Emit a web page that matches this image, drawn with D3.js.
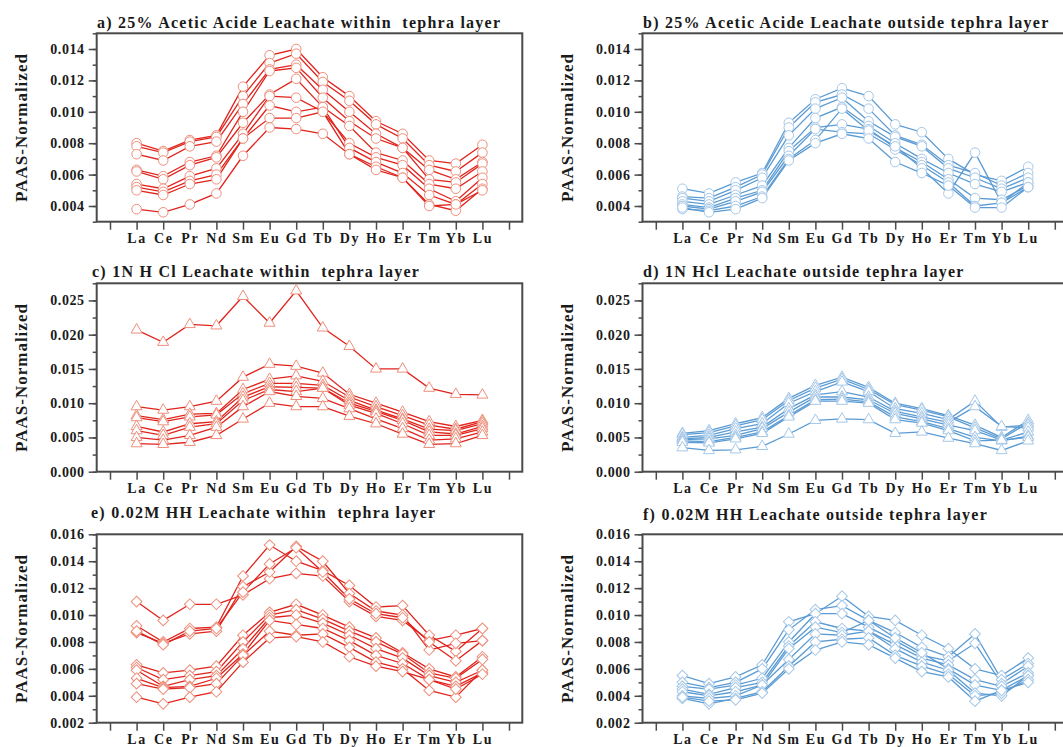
<!DOCTYPE html>
<html>
<head>
<meta charset="utf-8">
<script src="https://cdn.jsdelivr.net/npm/d3@7"></script>
<style>
  body { margin: 0; background: #fff; }
  text { font-family: "Liberation Serif", "Times New Roman", serif; font-weight: bold; fill: #1a1a1a; }
</style>
</head>
<body>
<div id="chart"></div>
<script>
// REE names, plotted at x = 1..14
const elements = ["La","Ce","Pr","Nd","Sm","Eu","Gd","Tb","Dy","Ho","Er","Tm","Yb","Lu"];

// a) 25% acetic acid, within tephra layer
const aceticWithin = [
  [.0080,.0075,.0082,.0085,.0116,.0136,.0140,.0122,.0110,.0094,.0086,.0069,.0067,.0079],
  [.0078,.0074,.0081,.0084,.0110,.0131,.0137,.0119,.0107,.0092,.0083,.0066,.0062,.0074],
  [.0073,.0069,.0078,.0081,.0105,.0127,.0130,.0114,.0100,.0086,.0077,.0063,.0057,.0068],
  [.0063,.0059,.0068,.0072,.0100,.0126,.0128,.0109,.0094,.0083,.0077,.0057,.0055,.0067],
  [.0062,.0057,.0066,.0071,.0093,.0111,.0121,.0103,.0091,.0074,.0069,.0054,.0051,.0062],
  [.0054,.0051,.0059,.0064,.0086,.0110,.0109,.0100,.0080,.0071,.0066,.0051,.0043,.0058],
  [.0052,.0049,.0056,.0060,.0083,.0104,.0100,.0103,.0077,.0068,.0061,.0047,.0041,.0054],
  [.0050,.0047,.0054,.0057,.0083,.0096,.0096,.0100,.0073,.0065,.0058,.0041,.0037,.0051],
  [.0038,.0036,.0041,.0048,.0072,.0090,.0089,.0086,.0073,.0063,.0058,.0040,.0041,.0050]
];

// b) 25% acetic acid, outside tephra layer
const aceticOutside = [
  [.0051,.0048,.0055,.0061,.0093,.0108,.0115,.0110,.0092,.0087,.0070,.0060,.0056,.0065],
  [.0046,.0045,.0052,.0060,.0090,.0106,.0111,.0102,.0085,.0079,.0066,.0061,.0053,.0061],
  [.0045,.0043,.0050,.0058,.0085,.0102,.0109,.0094,.0084,.0078,.0064,.0058,.0051,.0058],
  [.0043,.0041,.0047,.0053,.0077,.0096,.0103,.0091,.0080,.0070,.0061,.0054,.0049,.0055],
  [.0041,.0039,.0045,.0050,.0075,.0090,.0092,.0089,.0077,.0068,.0057,.0045,.0044,.0053],
  [.0040,.0038,.0043,.0049,.0072,.0089,.0087,.0086,.0076,.0066,.0055,.0040,.0042,.0055],
  [.0038,.0037,.0040,.0046,.0070,.0082,.0102,.0088,.0078,.0064,.0048,.0074,.0042,.0052],
  [.0039,.0036,.0038,.0045,.0069,.0080,.0086,.0083,.0068,.0061,.0053,.0039,.0039,.0052]
];

// c) 1N HCl, within tephra layer
const hclWithin = [
  [.0207,.0189,.0215,.0213,.0256,.0217,.0264,.0210,.0183,.0150,.0150,.0122,.0113,.0112],
  [.0095,.0090,.0095,.0103,.0138,.0157,.0154,.0144,.0113,.0100,.0087,.0073,.0066,.0075],
  [.0082,.0076,.0084,.0085,.0120,.0135,.0140,.0132,.0109,.0095,.0082,.0068,.0062,.0073],
  [.0079,.0073,.0080,.0083,.0114,.0129,.0129,.0126,.0104,.0090,.0077,.0062,.0060,.0070],
  [.0066,.0058,.0070,.0073,.0109,.0124,.0123,.0122,.0100,.0088,.0075,.0058,.0055,.0066],
  [.0060,.0053,.0065,.0070,.0104,.0120,.0117,.0122,.0097,.0085,.0070,.0053,.0053,.0063],
  [.0050,.0046,.0053,.0065,.0095,.0117,.0110,.0107,.0092,.0077,.0063,.0046,.0048,.0058],
  [.0041,.0040,.0043,.0053,.0077,.0100,.0095,.0095,.0081,.0070,.0055,.0040,.0041,.0053]
];

// d) 1N HCl, outside tephra layer
const hclOutside = [
  [.0056,.0060,.0070,.0079,.0107,.0126,.0138,.0123,.0100,.0092,.0082,.0068,.0050,.0075],
  [.0054,.0057,.0067,.0076,.0104,.0122,.0135,.0120,.0098,.0090,.0080,.0064,.0048,.0071],
  [.0050,.0053,.0063,.0070,.0100,.0117,.0131,.0117,.0092,.0085,.0076,.0103,.0065,.0068],
  [.0048,.0050,.0058,.0065,.0092,.0112,.0117,.0109,.0088,.0080,.0072,.0095,.0066,.0064],
  [.0047,.0048,.0053,.0063,.0087,.0109,.0109,.0105,.0085,.0077,.0068,.0060,.0046,.0058],
  [.0045,.0044,.0050,.0058,.0082,.0105,.0106,.0102,.0080,.0073,.0063,.0050,.0045,.0052],
  [.0043,.0042,.0048,.0056,.0080,.0103,.0103,.0100,.0076,.0071,.0060,.0045,.0046,.0050],
  [.0035,.0031,.0032,.0037,.0055,.0075,.0077,.0076,.0056,.0058,.0049,.0041,.0031,.0045]
];

// e) 0.02M HH, within tephra layer
const hhWithin = [
  [.0110,.0096,.0108,.0108,.0115,.0127,.0131,.0129,.0110,.0099,.0096,.0081,.0085,.0090],
  [.0092,.0080,.0090,.0091,.0129,.0152,.0140,.0133,.0122,.0106,.0107,.0085,.0073,.0090],
  [.0087,.0079,.0086,.0088,.0121,.0132,.0151,.0140,.0116,.0103,.0100,.0074,.0079,.0081],
  [.0088,.0078,.0088,.0090,.0117,.0138,.0150,.0132,.0112,.0101,.0098,.0080,.0066,.0081],
  [.0063,.0057,.0059,.0062,.0085,.0102,.0108,.0100,.0091,.0083,.0072,.0060,.0054,.0069],
  [.0061,.0052,.0055,.0058,.0080,.0100,.0104,.0097,.0088,.0080,.0071,.0057,.0053,.0067],
  [.0059,.0047,.0052,.0055,.0075,.0098,.0100,.0094,.0085,.0075,.0068,.0055,.0050,.0059],
  [.0053,.0046,.0047,.0053,.0071,.0096,.0093,.0090,.0081,.0070,.0064,.0052,.0047,.0057],
  [.0049,.0045,.0046,.0049,.0070,.0088,.0085,.0086,.0076,.0065,.0060,.0044,.0039,.0059],
  [.0039,.0034,.0039,.0043,.0065,.0083,.0084,.0080,.0069,.0062,.0058,.0052,.0045,.0056]
];

// f) 0.02M HH, outside tephra layer
const hhOutside = [
  [.0055,.0049,.0054,.0063,.0095,.0101,.0114,.0099,.0096,.0085,.0075,.0060,.0055,.0068],
  [.0050,.0046,.0050,.0060,.0089,.0104,.0107,.0096,.0087,.0076,.0069,.0086,.0052,.0064],
  [.0047,.0045,.0048,.0053,.0080,.0101,.0101,.0091,.0081,.0070,.0066,.0079,.0049,.0062],
  [.0045,.0041,.0046,.0050,.0077,.0095,.0090,.0088,.0078,.0068,.0063,.0052,.0047,.0057],
  [.0043,.0040,.0043,.0048,.0075,.0091,.0087,.0096,.0083,.0072,.0060,.0048,.0044,.0055],
  [.0040,.0038,.0040,.0048,.0067,.0086,.0085,.0088,.0075,.0065,.0059,.0042,.0040,.0055],
  [.0038,.0034,.0038,.0043,.0062,.0080,.0082,.0083,.0070,.0062,.0056,.0040,.0042,.0052],
  [.0039,.0036,.0037,.0042,.0060,.0074,.0080,.0078,.0068,.0058,.0054,.0036,.0044,.0050]
];

const titles = [
  "a) 25% Acetic Acide Leachate within  tephra layer",
  "b) 25% Acetic Acide Leachate outside tephra layer",
  "c) 1N H Cl Leachate within  tephra layer",
  "d) 1N Hcl Leachate outside tephra layer",
  "e) 0.02M HH Leachate within  tephra layer",
  "f) 0.02M HH Leachate outside tephra layer"
];
const yLabel = "PAAS-Normalized";

// styles
const red = {line: "#e0231c", marker: "#ee8f7c"};
const blue = {line: "#5b9bd3", marker: "#a6c8e8"};
const axisColor = "#4a4a4a";

const W = 1063, H = 747;
const plotW = 425.6, plotH = 188.4;
const colX = [96.7, 642.5];
const rowY = [33.3, 283.3, 534.3];

const panels = [
  {data: aceticWithin,  col: 0, row: 0, dom: [0.003, 0.015], major: 0.002, first: 0.004, sym: "circle",   c: red,  tx: 97,  ty: 28},
  {data: aceticOutside, col: 1, row: 0, dom: [0.003, 0.015], major: 0.002, first: 0.004, sym: "circle",   c: blue, tx: 643, ty: 28},
  {data: hclWithin,     col: 0, row: 1, dom: [0, 0.0275],    major: 0.005, first: 0,     sym: "triangle", c: red,  tx: 92,  ty: 277},
  {data: hclOutside,    col: 1, row: 1, dom: [0, 0.0275],    major: 0.005, first: 0,     sym: "triangle", c: blue, tx: 643, ty: 277},
  {data: hhWithin,      col: 0, row: 2, dom: [0.002, 0.016], major: 0.002, first: 0.002, sym: "diamond",  c: red,  tx: 91,  ty: 518},
  {data: hhOutside,     col: 1, row: 2, dom: [0.002, 0.016], major: 0.002, first: 0.002, sym: "diamond",  c: blue, tx: 643, ty: 520}
];

const svg = d3.select("#chart").append("svg")
  .attr("width", W).attr("height", H)
  .style("display", "block");

const symbolPath = {
  circle: d3.symbol().type(d3.symbolCircle).size(72)(),
  triangle: d3.symbol().type(d3.symbolTriangle).size(52)(),
  diamond: d3.symbol().type(d3.symbolSquare).size(58)()
};

panels.forEach((p, i) => {
  const left = colX[p.col], top = rowY[p.row];
  const x = d3.scaleLinear().domain([-0.5, 15.5]).range([0, plotW]);
  const y = d3.scaleLinear().domain(p.dom).range([plotH, 0]);

  const g = svg.append("g").attr("transform", `translate(${left},${top})`);

  // title (keeps the double spaces of the original)
  svg.append("text")
    .attr("x", p.tx).attr("y", p.ty)
    .style("font-size", "16px").style("letter-spacing", "1.25px")
    .style("white-space", "pre")
    .text(titles[i]);

  // y label
  svg.append("text")
    .attr("transform", `translate(${left - 70},${top + plotH / 2}) rotate(-90)`)
    .attr("text-anchor", "middle")
    .style("font-size", "17px").style("letter-spacing", "1px")
    .text(yLabel);

  // ticks
  const majors = d3.range(p.first, p.dom[1] + 1e-9, p.major);
  const minors = d3.range(p.first - p.major / 2, p.dom[1] + 1e-9, p.major / 2)
    .filter(v => v >= p.dom[0] - 1e-9);

  g.append("g")
    .call(d3.axisLeft(y).tickValues(minors).tickSize(4).tickFormat(""))
    .call(s => s.select(".domain").remove())
    .selectAll("line").attr("stroke", axisColor).attr("stroke-width", 1.5);

  const yAx = g.append("g")
    .call(d3.axisLeft(y).tickValues(majors).tickSize(8).tickPadding(4).tickFormat(d3.format(".3f")));
  yAx.select(".domain").remove();
  yAx.selectAll("line").attr("stroke", axisColor).attr("stroke-width", 1.5);
  yAx.selectAll("text").attr("font-family", null).attr("font-size", null)
    .style("font-size", "14px").style("letter-spacing", "0.6px");

  const xAx = g.append("g").attr("transform", `translate(0,${plotH})`)
    .call(d3.axisBottom(x).tickValues(d3.range(0, 16)).tickSize(8).tickPadding(3)
      .tickFormat(d => elements[d - 1] || ""));
  xAx.select(".domain").remove();
  xAx.selectAll("line").attr("stroke", axisColor).attr("stroke-width", 1.5);
  xAx.selectAll("text").attr("font-family", null).attr("font-size", null)
    .style("font-size", "14px").style("letter-spacing", "1.6px");

  // frame
  g.append("rect")
    .attr("width", plotW).attr("height", plotH)
    .attr("fill", "none").attr("stroke", axisColor).attr("stroke-width", 2);

  // series
  const line = d3.line().x((d, j) => x(j + 1)).y(d => y(d));
  g.selectAll("path.series").data(p.data).enter().append("path")
    .attr("class", "series")
    .attr("d", line)
    .attr("fill", "none").attr("stroke", p.c.line).attr("stroke-width", 1.3);

  const pts = p.data.flatMap(s => s.map((v, j) => ({j: j + 1, v})));
  g.selectAll("path.pt").data(pts).enter().append("path")
    .attr("class", "pt")
    .attr("d", symbolPath[p.sym])
    .attr("transform", d => `translate(${x(d.j)},${y(d.v)})` + (p.sym === "diamond" ? " rotate(45)" : ""))
    .attr("fill", "#fff").attr("stroke", p.c.marker).attr("stroke-width", 1);
});
</script>
</body>
</html>
